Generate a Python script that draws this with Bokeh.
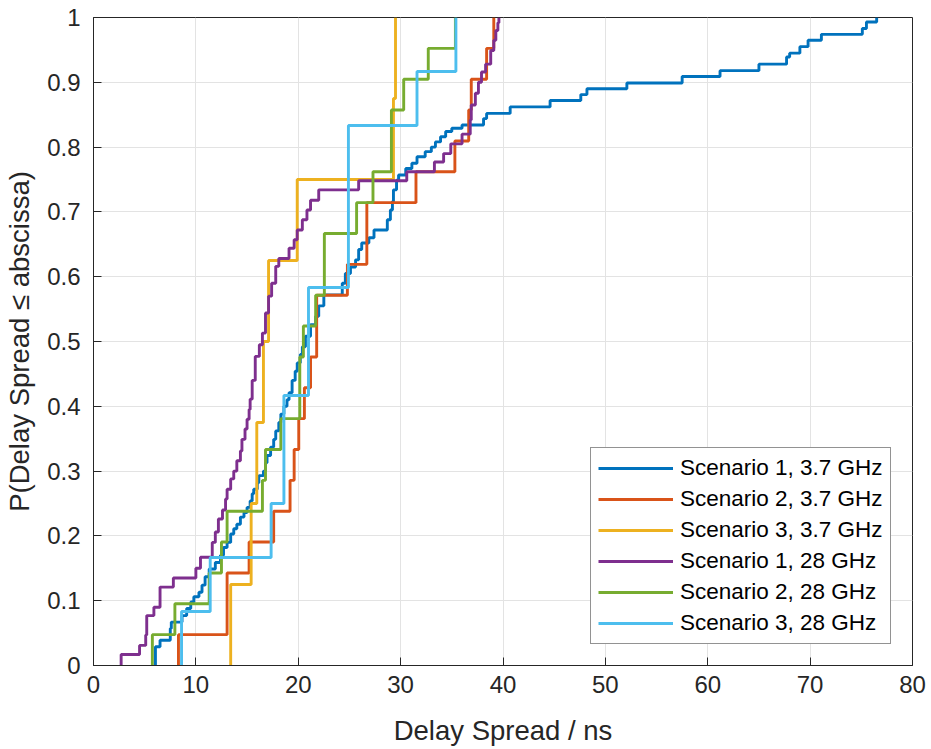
from bokeh.plotting import figure
from bokeh.models import FixedTicker, CustomJSTickFormatter, Range1d, Legend
from bokeh.embed import file_html
from bokeh.resources import INLINE

# ---- data (ECDF breakpoints: delay [ns], cumulative probability) ----
s1_37_x = [6.05, 6.5, 7.5, 7.6, 8.65, 9.1, 9.5, 9.8, 10.3, 10.6, 10.9, 11.3, 11.9, 12.4, 12.7,
           13.05, 13.4, 13.7, 14.0, 14.35, 14.7, 15.0, 15.3, 15.5, 15.65, 16.0, 16.15, 16.6, 16.8,
           16.95, 17.3, 17.6, 17.8, 18.1, 18.3, 18.6, 18.9, 19.1, 19.4, 19.7, 19.9, 20.2, 20.4,
           20.7, 21.2, 21.7, 22.0, 22.5, 24.3, 24.6, 25.1, 25.6, 25.9, 26.2, 26.9, 27.4, 28.7,
           29.0, 29.2, 29.3, 29.6, 29.8, 30.5, 31.1, 31.6, 32.4, 33.0, 33.4, 33.9, 34.4, 35.0,
           36.0, 38.1, 38.4, 40.7, 44.6, 47.6, 48.2, 52.1, 57.5, 61.2, 65.0, 67.7, 68.0, 69.0,
           69.8, 71.1, 75.1, 75.5, 76.5]
s1_37_p = [0.029, 0.039, 0.057, 0.067, 0.077, 0.088, 0.098, 0.106, 0.113, 0.124, 0.137, 0.149,
           0.159, 0.170, 0.182, 0.190, 0.203, 0.211, 0.218, 0.229, 0.236, 0.244, 0.254, 0.265,
           0.272, 0.282, 0.293, 0.300, 0.313, 0.324, 0.337, 0.349, 0.362, 0.375, 0.388, 0.400,
           0.410, 0.421, 0.440, 0.454, 0.467, 0.480, 0.492, 0.508, 0.526, 0.539, 0.555, 0.572,
           0.590, 0.605, 0.615, 0.626, 0.642, 0.652, 0.660, 0.672, 0.688, 0.703, 0.716, 0.734,
           0.749, 0.757, 0.767, 0.775, 0.785, 0.793, 0.800, 0.808, 0.816, 0.824, 0.829, 0.834,
           0.844, 0.852, 0.862, 0.872, 0.881, 0.890, 0.899, 0.909, 0.918, 0.928, 0.939, 0.945,
           0.955, 0.965, 0.974, 0.983, 0.993, 1.0]

s2_37_x = [8.3, 13.05, 15.2, 17.6, 19.2, 19.6, 20.05, 20.6, 21.2, 21.8, 24.8, 26.7, 31.5,
           35.3, 36.65, 36.9, 38.4, 39.1]
s2_37_p = [1/21, 3/21, 4/21, 5/21, 6/21, 7/21, 8/21, 9/21, 10/21, 12/21, 13/21, 15/21, 16/21,
           17/21, 18/21, 19/21, 20/21, 1.0]

s3_37_x = [13.4, 15.4, 15.95, 16.6, 17.1, 19.9, 29.3, 29.5]
s3_37_p = [1/8, 2/8, 3/8, 4/8, 5/8, 6/8, 7/8, 1.0]

s1_28_x = [2.7, 4.5, 5.1, 5.2, 5.9, 6.5, 7.8, 10.0, 10.45, 11.6, 11.9, 12.2, 12.6, 12.9, 13.05,
           13.4, 13.7, 14.0, 14.35, 14.5, 14.8, 15.0, 15.2, 15.3, 15.5, 15.8, 16.2, 16.5, 16.8,
           17.1, 17.4, 17.8, 18.1, 19.1, 19.6, 19.9, 20.4, 20.85, 21.2, 22.0, 25.9, 30.6, 33.3,
           34.2, 34.9, 36.0, 36.8, 36.9, 37.3, 37.6, 37.9, 38.3, 38.8, 39.1, 39.3, 39.5, 39.6]
s1_28_p = [0.017, 0.031, 0.047, 0.077, 0.090, 0.121, 0.135, 0.150, 0.167, 0.190, 0.206, 0.226,
           0.240, 0.257, 0.272, 0.288, 0.300, 0.316, 0.331, 0.349, 0.365, 0.380, 0.395, 0.411,
           0.440, 0.477, 0.495, 0.513, 0.544, 0.570, 0.590, 0.616, 0.628, 0.644, 0.657, 0.672,
           0.688, 0.703, 0.718, 0.734, 0.748, 0.762, 0.777, 0.790, 0.805, 0.820, 0.842, 0.865,
           0.883, 0.900, 0.916, 0.928, 0.949, 0.965, 0.980, 0.992, 1.0]

s2_28_x = [5.75, 7.95, 11.3, 12.5, 13.05, 16.5, 16.8, 18.3, 20.15, 20.5, 21.7, 22.55, 25.7,
           27.3, 29.1, 30.3, 32.7, 35.35]
s2_28_p = [1/21, 2/21, 3/21, 4/21, 5/21, 6/21, 7/21, 8/21, 10/21, 11/21, 12/21, 14/21, 15/21,
           16/21, 18/21, 19/21, 20/21, 1.0]

s3_28_x = [8.6, 11.4, 17.35, 18.6, 21.0, 24.9, 31.6, 35.4]
s3_28_p = [1/12, 2/12, 3/12, 5/12, 7/12, 10/12, 11/12, 1.0]

series = [
    ("Scenario 1, 3.7 GHz", s1_37_x, s1_37_p, "#0072BD"),
    ("Scenario 2, 3.7 GHz", s2_37_x, s2_37_p, "#D95319"),
    ("Scenario 3, 3.7 GHz", s3_37_x, s3_37_p, "#EDB120"),
    ("Scenario 1, 28 GHz", s1_28_x, s1_28_p, "#7E2F8E"),
    ("Scenario 2, 28 GHz", s2_28_x, s2_28_p, "#77AC30"),
    ("Scenario 3, 28 GHz", s3_28_x, s3_28_p, "#4DBEEE"),
]

x_ticks = [0, 10, 20, 30, 40, 50, 60, 70, 80]
y_ticks = [0, 0.1, 0.2, 0.3, 0.4, 0.5, 0.6, 0.7, 0.8, 0.9, 1.0]

FONT = "Liberation Sans"
DARK = "#262626"

p = figure(width=926, height=748, output_backend="svg", toolbar_location=None,
           x_range=Range1d(0, 80), y_range=Range1d(0, 1),
           min_border_left=93, min_border_right=14, min_border_top=17, min_border_bottom=81)
p.background_fill_color = "white"
p.border_fill_color = "white"
p.outline_line_color = DARK
p.outline_line_width = 1

items = []
for name, xs, ps, col in series:
    x = [xs[0]] + list(xs)
    y = [0.0] + list(ps)
    r = p.step(x, y, mode="after", line_color=col, line_width=2.9)
    items.append((name, [r]))

for ax in (p.xaxis[0], p.yaxis[0]):
    ax.axis_line_color = DARK
    ax.major_tick_line_color = DARK
    ax.major_tick_in = 8
    ax.major_tick_out = 0
    ax.minor_tick_line_color = None
    ax.major_label_text_font = FONT
    ax.major_label_text_font_size = "24px"
    ax.major_label_text_color = DARK
    ax.axis_label_text_font = FONT
    ax.axis_label_text_font_size = "27.5px"
    ax.axis_label_text_font_style = "normal"
    ax.axis_label_text_color = DARK

p.xaxis.ticker = FixedTicker(ticks=x_ticks)
p.yaxis.ticker = FixedTicker(ticks=y_ticks)
p.yaxis.formatter = CustomJSTickFormatter(code="return String(Math.round(tick*10)/10);")
p.xaxis.major_label_standoff = 10
p.yaxis.major_label_standoff = 13
p.xaxis.axis_label = "Delay Spread / ns"
p.yaxis.axis_label = "P(Delay Spread \u2264 abscissa)"
p.xaxis.axis_label_standoff = 19
p.yaxis.axis_label_standoff = 9

p.grid.grid_line_color = "#E3E3E3"
p.grid.grid_line_width = 1

legend = Legend(items=items, location=(497, 21))
legend.label_text_font = FONT
legend.label_text_font_size = "22.5px"
legend.label_text_color = "black"
legend.glyph_width = 75
legend.glyph_height = 20
legend.label_height = 20
legend.spacing = 5
legend.padding = 7
legend.margin = 0
legend.label_standoff = 7
legend.border_line_color = DARK
legend.border_line_width = 1
legend.background_fill_alpha = 1.0
p.add_layout(legend, "center")

open("out.html", "w").write(file_html(p, INLINE))
